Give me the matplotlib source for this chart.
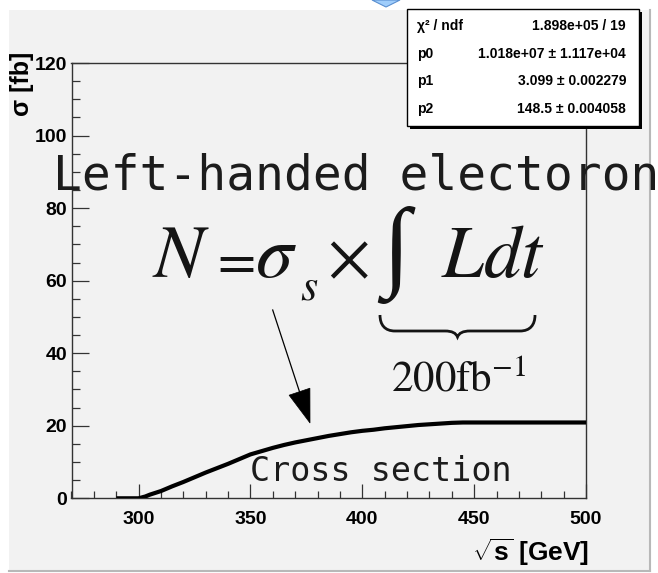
import matplotlib
matplotlib.use("Agg")
import matplotlib.pyplot as plt
from matplotlib.patches import Rectangle, Polygon, PathPatch
from matplotlib.lines import Line2D
from matplotlib.path import Path
from matplotlib.ticker import MultipleLocator

plt.rcParams['mathtext.fontset'] = 'custom'
plt.rcParams['mathtext.rm'] = 'Liberation Sans:bold'
plt.rcParams['mathtext.bf'] = 'Liberation Sans:bold'
plt.rcParams['mathtext.it'] = 'Liberation Sans:bold:italic'

# Cross section vs. centre-of-mass energy
sqrt_s = [291, 295, 300, 303, 305, 310, 315, 320, 325, 330, 335, 340, 345, 350,
          355, 360, 365, 370, 375, 380, 385, 390, 395, 400, 405, 410, 415, 420,
          425, 430, 435, 440, 445, 450, 460, 470, 480, 490, 500]
sigma = [0.0, 0.0, 0.0, 0.5, 1.0, 2.0, 3.3, 4.5, 5.8, 7.1, 8.3, 9.5, 10.8, 12.1,
         13.0, 13.9, 14.7, 15.4, 16.0, 16.6, 17.2, 17.7, 18.2, 18.6, 18.9, 19.3, 19.6, 19.9,
         20.2, 20.4, 20.6, 20.8, 20.9, 20.9, 20.9, 20.9, 20.9, 20.9, 20.9]

x_ticks = [300, 350, 400, 450, 500]
y_ticks = [0, 20, 40, 60, 80, 100, 120]
x_range = (270, 500)
y_range = (0, 120)

stats_names = ["χ² / ndf", "p0", "p1", "p2"]
stats_values = ["1.898e+05 / 19", "1.018e+07 ± 1.117e+04",
                "3.099 ± 0.002279", "148.5 ± 0.004058"]

W, H = 658, 573


def fx(px):
    return px / W


def fy(py):
    return 1 - py / H


fig = plt.figure(figsize=(W / 100, H / 100), dpi=100)
fig.patch.set_facecolor('white')

# canvas panel with light border
fig.patches.append(Rectangle((fx(9), fy(571)), fx(650) - fx(9), fy(10) - fy(571),
                             transform=fig.transFigure, facecolor='#f2f2f2',
                             edgecolor='none', zorder=-10))
fig.lines.append(Line2D([fx(650), fx(650)], [fy(10), fy(571)], transform=fig.transFigure,
                        color='#b8b8b8', lw=1.5, zorder=-9))
fig.lines.append(Line2D([fx(9), fx(650)], [fy(571), fy(571)], transform=fig.transFigure,
                        color='#b8b8b8', lw=1.5, zorder=-9))

# small blue marker at the top
fig.patches.append(Polygon([(fx(372), fy(0)), (fx(400), fy(0)), (fx(386), fy(7))],
                           closed=True, transform=fig.transFigure,
                           facecolor='#9fcdfb', edgecolor='#5a8fd0', lw=0.8, zorder=2))

ax = fig.add_axes([fx(71.5), fy(498.3), (586 - 71.5) / W, (498.3 - 63) / H])
ax.set_facecolor('#f2f2f2')
ax.set_xlim(*x_range)
ax.set_ylim(*y_range)
ax.set_xticks(x_ticks)
ax.set_yticks(y_ticks)
ax.xaxis.set_minor_locator(MultipleLocator(10))
ax.yaxis.set_minor_locator(MultipleLocator(5))
for s in ax.spines.values():
    s.set_color('#333333')
    s.set_linewidth(1.0)
ax.tick_params(axis='both', which='both', direction='in', color='#333333', width=0.9)
ax.tick_params(axis='y', which='major', length=12, pad=3)
ax.tick_params(axis='y', which='minor', length=6)
ax.tick_params(axis='x', which='major', length=10, pad=9)
ax.tick_params(axis='x', which='minor', length=5)
for lab in ax.get_xticklabels() + ax.get_yticklabels():
    lab.set_fontfamily('Liberation Sans')
    lab.set_fontweight('bold')
    lab.set_fontsize(14)

ax.plot(sqrt_s, sigma, color='black', lw=3.0, solid_joinstyle='miter', zorder=3)

# axis titles
fig.text(fx(22), fy(52), "σ [fb]", rotation=90, ha='center', va='top',
         family=['Liberation Sans', 'DejaVu Sans'], fontweight='bold', fontsize=18)
fig.text(fx(589), fy(552), r"$\sqrt{\mathrm{s}}$ [GeV]", ha='right', va='center',
         family=['Liberation Sans', 'DejaVu Sans'], fontweight='bold', fontsize=19)

# fit statistics box
fig.patches.append(Rectangle((fx(410), fy(129)), fx(642) - fx(410), fy(12) - fy(129),
                             transform=fig.transFigure, facecolor='black',
                             edgecolor='none', zorder=4))
fig.patches.append(Rectangle((fx(407), fy(126)), fx(639) - fx(407), fy(9) - fy(126),
                             transform=fig.transFigure, facecolor='white',
                             edgecolor='black', lw=1.0, zorder=5))
for i, (name, val) in enumerate(zip(stats_names, stats_values)):
    yb = 30 + i * 27.7
    fig.text(fx(417), fy(yb), name, ha='left', va='baseline', fontsize=10,
             family=['Liberation Sans', 'DejaVu Sans'], fontweight='bold', zorder=6)
    fig.text(fx(626), fy(yb), val, ha='right', va='baseline', fontsize=10,
             family=['Liberation Sans', 'DejaVu Sans'], fontweight='bold', zorder=6)

# annotations
fig.text(fx(53), fy(189), "Left-handed electoron", ha='left', va='baseline',
         family='DejaVu Sans Mono', fontsize=34.5, color='#1c1c1c', zorder=7)
fig.text(fx(250), fy(481), "Cross section", ha='left', va='baseline',
         family='DejaVu Sans Mono', fontsize=24, color='#1c1c1c', zorder=7)

tc = '#141414'
mf = 'stix'
fig.text(fx(152), fy(277), r"$N$", ha='left', va='baseline', fontsize=54, color=tc,
         math_fontfamily=mf)
fig.text(fx(209), fy(277), r"$=$", ha='left', va='baseline', fontsize=40, color=tc,
         math_fontfamily=mf)
fig.text(fx(255), fy(277), r"$\sigma$", ha='left', va='baseline', fontsize=54, color=tc,
         math_fontfamily=mf)
fig.text(fx(300), fy(300), r"$s$", ha='left', va='baseline', fontsize=32, color=tc,
         math_fontfamily=mf)
fig.text(fx(327), fy(277), r"$\times$", ha='left', va='baseline', fontsize=48, color=tc,
         math_fontfamily=mf)
fig.text(fx(382), fy(277), "∫", ha='left', va='baseline', fontsize=72, color=tc,
         family='Liberation Serif')
fig.text(fx(441), fy(277), r"$Ldt$", ha='left', va='baseline', fontsize=54, color=tc,
         math_fontfamily=mf)

# underbrace under the integral
brace = [
    (380, 315), (380, 325), (385, 331), (395, 331),
    (445, 331),
    (452, 331), (456, 333), (457.5, 337),
    (459, 333), (463, 331), (470, 331),
    (520, 331),
    (530, 331), (535, 325), (535, 315),
]
codes = [Path.MOVETO, Path.CURVE4, Path.CURVE4, Path.CURVE4,
         Path.LINETO,
         Path.CURVE4, Path.CURVE4, Path.CURVE4,
         Path.CURVE4, Path.CURVE4, Path.CURVE4,
         Path.LINETO,
         Path.CURVE4, Path.CURVE4, Path.CURVE4]
fig.patches.append(PathPatch(Path([(fx(a), fy(b)) for a, b in brace], codes),
                             transform=fig.transFigure, facecolor='none',
                             edgecolor=tc, lw=2.0, zorder=7))
fig.text(fx(391), fy(391), r"$\mathrm{200fb}^{-1}$", ha='left', va='baseline',
         fontsize=31, color=tc, math_fontfamily=mf)

# arrow pointing at the curve
fig.lines.append(Line2D([fx(272.7), fx(299.5)], [fy(310), fy(391.7)],
                        transform=fig.transFigure, color='black', lw=0.9, zorder=7))
fig.patches.append(Polygon([(fx(310), fy(423)), (fx(289.1), fy(395.2)), (fx(309.9), fy(388.2))],
                           closed=True, transform=fig.transFigure,
                           facecolor='black', edgecolor='black', lw=0.5, zorder=7))

fig.savefig("out.png", dpi=100)
